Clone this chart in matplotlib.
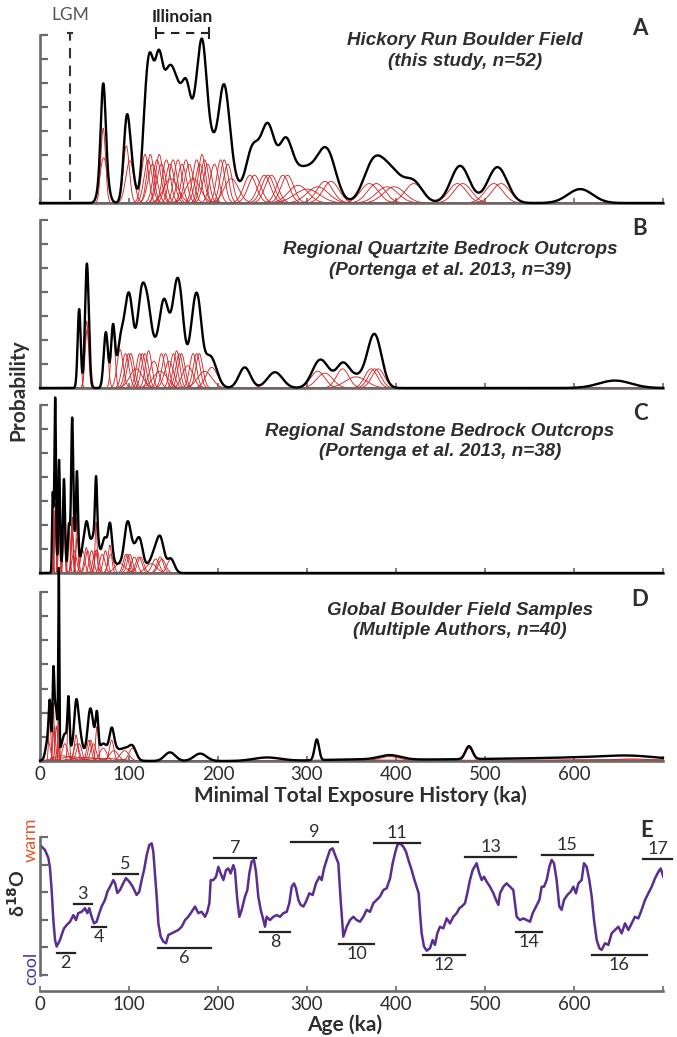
import numpy as np
import matplotlib.pyplot as plt

plt.rcParams['font.family'] = ['Lato', 'DejaVu Sans']

# A: Hickory Run Boulder Field (age ka, 1 sigma ka)
hr_age = [71, 71.5, 97, 101,
          118, 121.5, 124, 126.5, 131.5, 134, 136.5, 142, 146, 147, 149.5,
          155, 159.5, 164, 167.5, 172, 176, 179.5, 182, 185, 188.5, 196, 203, 207, 211, 215,
          236, 241, 252, 256, 260, 273, 278, 290, 300, 312, 320, 327,
          370, 378, 390, 398, 420, 469, 475, 510, 518, 607]
hr_err = [2.6, 4.3, 3.4, 4.6,
          4, 4.5, 4, 5, 4.5, 4, 5, 4.5, 5, 8, 4.5,
          4.5, 5, 4.5, 5, 8, 4.5, 5, 4, 4.5, 5, 5, 4.5, 4.5, 5, 8,
          7, 7, 7, 7, 7, 7, 7, 11, 14, 12, 9, 9,
          10, 10, 12, 12, 10, 10, 10, 10, 10, 14]

# B: regional quartzite bedrock (Portenga et al. 2013)
qz_age = [44, 52.5, 53, 74, 82, 90, 96, 99.5, 102, 108, 112, 115, 118, 122, 128,
          135, 136.5, 141, 145, 150, 153.5, 156.5, 159, 166, 172, 176, 179, 185, 193,
          230, 264, 312, 320, 340, 355, 372, 376, 380, 646]
qz_err = [1.7, 2.0, 2.3, 2.4, 2.2, 3.5, 3.9, 3.9, 3.9, 7, 3.9, 3.9, 3.9, 3.6, 5,
          8, 3.9, 3.9, 5, 3.9, 3.6, 3.9, 3.9, 6, 3.9, 3.9, 3.9, 8, 6.5,
          6.5, 8.5, 8, 9, 7, 12, 7, 7, 7, 18]

# C: regional sandstone bedrock (Portenga et al. 2013)
ss_age = [14.3, 16.8, 17, 17.2, 21.3, 21.8, 26.8, 27.3, 32.5, 35.8, 36.2, 36.5, 38.5,
          41.5, 41.8, 48, 52, 53.5, 58, 62, 63, 64, 70, 73.5, 78.5, 79.5, 90, 96.5,
          98.5, 101, 106, 111, 113, 125, 130, 135, 137, 147]
ss_err = [0.75, 1.2, 0.9, 0.8, 0.8, 1.2, 1.0, 1.4, 1.2, 1.15, 1.0, 1.4, 2.5,
          1.0, 1.6, 2.5, 2.2, 2.5, 2.5, 2.5, 1.1, 2.4, 3.0, 2.5, 2.0, 3.0, 6, 3,
          3, 3, 3.5, 3.5, 3.5, 6, 4, 3.5, 4, 4]

# D: global boulder field samples (multiple authors)
gb_age = [9, 11, 15, 16, 18.5, 21, 21.2, 25, 28, 32, 35, 40.5, 41, 44, 50, 55, 57, 60, 64, 70,
          71, 80.5, 83, 95, 104, 146, 180, 255, 311, 350, 393, 430, 482, 520, 560, 620, 650,
          663, 700, 600]
gb_err = [2.5, 1.2, 0.9, 1.5, 1.5, 0.6, 0.55, 10, 3, 1.1, 12, 2, 3, 3, 15, 2.5, 2.5, 3, 1.5, 20,
          4, 2.5, 5, 5, 4, 6, 7, 15, 2.5, 40, 12, 50, 4, 50, 60, 40, 45,
          25, 40, 60]

# E: benthic d18O stack, relative units (0 = cool, 5 = warm)
lr_age = [1.9, 5.6, 9.4, 11.2, 13.1, 15, 16.9, 18.7, 20.6, 22.5, 24.3, 27, 30, 33.7, 37.5, 40.4,
          43, 46.8, 50.6, 53.2, 55.4, 58, 60.7, 63.6, 66.6, 69.2, 73, 75.7, 78.7, 82.4, 84.3,
          86.9, 89.9, 93.6, 96.6, 100.4, 104.1, 108.6, 111.6, 114.2, 116.9, 119.9, 122.8,
          125.5, 127.3, 129.2, 131.1, 133, 135.6, 138.6, 141.6, 144.2, 148, 151.7, 155.4,
          159.2, 163, 166.6, 170.4, 174.2, 177.9, 181.6, 185.4, 188, 190.3, 191.8, 194.8,
          197.8, 200.4, 203, 206, 209, 211.6, 214.2, 217.2, 219, 221.7, 224, 226.6, 230.3,
          233, 235.2, 237.8, 240.4, 242.7, 245.3, 248, 251, 252.8, 254.7, 258.4, 262.2,
          265.9, 269.7, 273.4, 277.2, 280.1, 282.8, 285.4, 287.6, 290.3, 292.9, 295.9,
          298.9, 302.6, 306.4, 310.1, 313.9, 316.5, 319.1, 322.1, 325.8, 328.8, 331.5,
          335.2, 337.8, 340.8, 344.6, 348.3, 352, 355.8, 359.6, 363.3, 367, 370.8, 374.5,
          378.3, 382, 385.8, 389.5, 393.3, 396.3, 398.9, 401.5, 404.5, 408.2, 411.2, 413.9,
          417.6, 420.2, 423.2, 425.5, 427, 428.8, 431.5, 434.5, 438.2, 441.2, 443.8, 446.4,
          449.4, 453.2, 456.9, 460.7, 464.4, 468.2, 471.2, 473.8, 477.5, 480.1, 483.1,
          486.1, 490.6, 493.6, 496.3, 498.9, 501.9, 505.6, 509.4, 512.4, 515, 516.9, 520.6,
          524.3, 528.1, 531.8, 533.7, 535.6, 539.3, 543.1, 546.8, 550.6, 553.6, 557.3,
          561.1, 563.7, 566.3, 569.3, 572.3, 574.9, 577.5, 580.5, 583.5, 586.1, 588.8,
          592.5, 596.3, 599.3, 602.2, 604.9, 608.6, 611.2, 614.2, 617.2, 619.9, 622.5,
          625.5, 628.5, 631.1, 634.8, 638.6, 642.3, 646.1, 649.8, 653.6, 657.3, 661.1,
          664.8, 668.5, 672.3, 676, 679.8, 683.5, 687.3, 691, 694.8, 697.4, 700.4]
lr_val = [4.65, 4.53, 4.24, 3.88, 3.08, 1.99, 1.27, 1.03, 1.15, 1.27, 1.45, 1.69, 1.81, 1.93,
          2.17, 1.99, 2.24, 2.29, 2.42, 2.24, 2.42, 2.11, 1.87, 1.93, 2.24, 2.48, 2.72, 3.02,
          3.2, 3.44, 3.33, 2.97, 3.08, 3.33, 3.51, 3.38, 3.2, 2.9, 3.02, 3.44, 3.8, 4.35, 4.71,
          4.77, 4.47, 3.68, 2.84, 1.87, 1.39, 1.21, 1.15, 1.45, 1.51, 1.57, 1.63, 1.75, 1.99,
          2.11, 2.29, 2.48, 2.24, 2.29, 2.11, 2.29, 2.6, 3.44, 3.44, 3.56, 3.92, 3.68, 3.44,
          3.8, 3.86, 3.68, 3.98, 3.8, 2.72, 2.11, 2.36, 2.84, 3.08, 3.68, 4.11, 4.17, 3.74,
          2.84, 2.36, 1.99, 1.75, 2.11, 1.99, 2.11, 2.17, 2.11, 2.24, 2.29, 2.6, 3.2, 3.32,
          3.14, 2.72, 2.54, 2.48, 2.66, 2.96, 2.9, 3.32, 3.56, 3.44, 3.86, 4.17, 4.53, 4.59,
          4.35, 4.05, 2.72, 1.39, 1.75, 1.99, 2.11, 1.99, 1.93, 2.11, 2.36, 2.29, 2.6, 2.72,
          2.84, 3.08, 3.14, 3.5, 4.05, 4.41, 4.71, 4.77, 4.65, 4.47, 4.17, 3.8, 3.5, 3.2,
          2.96, 2.24, 1.51, 1.03, 0.88, 0.97, 1.27, 1.09, 1.51, 1.75, 1.69, 2.05, 1.87, 2.11,
          2.24, 2.42, 2.48, 2.6, 2.96, 3.44, 3.8, 4.05, 3.68, 3.44, 3.56, 3.38, 3.2, 2.96,
          2.72, 2.54, 2.96, 3.2, 3.32, 3.2, 3.08, 2.6, 2.11, 1.99, 2.05, 1.99, 1.93, 2.24,
          2.48, 2.72, 3.2, 3.2, 3.44, 3.92, 4.17, 4.05, 3.44, 2.48, 2.36, 2.72, 2.9, 3.02,
          3.2, 2.96, 3.32, 3.44, 4.05, 3.92, 3.44, 2.84, 1.99, 1.27, 0.97, 0.91, 1.15, 1.09,
          1.51, 1.63, 1.75, 1.51, 1.87, 1.63, 1.87, 2.11, 2.05, 2.36, 2.72, 2.96, 3.2, 3.5,
          3.74, 3.86, 3.56]

# marine isotope stages: number, start, end, bar level
mis_num = [2, 3, 4, 5, 6, 7, 8, 9, 10, 11, 12, 13, 14, 15, 16, 17]
mis_start = [19, 38, 58, 82, 133, 196, 247, 282, 336, 375, 430, 478, 535, 564, 620, 678]
mis_end = [39, 58, 74, 110, 192, 243, 281, 335, 375, 427, 478, 535, 564, 621, 682, 710]
mis_level = [0.81, 2.57, 1.75, 3.66, 0.99, 4.25, 1.55, 4.83, 1.11, 4.79, 0.72, 4.26, 1.55,
             4.35, 0.72, 4.19]

W, H = 677, 1037
fig = plt.figure(figsize=(W / 100, H / 100), dpi=100)
GREY = '#6b6b6b'
TXT = '#2e2e2e'
x = np.linspace(0, 700, 4000)


def box(top, bottom):
    return [40 / W, 1 - bottom / H, 623 / W, (bottom - top) / H]


def style(ax, ymax, nt=8):
    for s in ['top', 'right']:
        ax.spines[s].set_visible(False)
    for s in ['left', 'bottom']:
        ax.spines[s].set_color(GREY)
        ax.spines[s].set_linewidth(1.9)
    ax.tick_params(axis='y', direction='in', color=GREY, width=1.6, length=5.5)
    ax.tick_params(axis='x', direction='in', color=GREY, width=1.2, length=3.5,
                   labelsize=13.5, labelcolor=TXT, pad=3.5)
    ax.set_xlim(0, 700)
    ax.set_ylim(0, ymax)
    ax.set_yticks(np.linspace(0, ymax, nt))
    ax.set_yticklabels([])
    ax.set_xticks(range(0, 701, 100))


def camel(ax, ages, errs, ymax):
    tot = np.zeros_like(x)
    for a, s in zip(ages, errs):
        p = np.exp(-0.5 * ((x - a) / s) ** 2) / (s * np.sqrt(2 * np.pi))
        ax.plot(x, p, color='#d3282a', lw=0.65, zorder=2)
        tot += p
    ax.plot(x, tot, color='black', lw=1.7, zorder=3, clip_on=False)
    style(ax, ymax)


panels = [
    (35, 203, hr_age, hr_err, 0.345, 'A', 1.04, 'Hickory Run Boulder Field\n(this study, n=52)', 0.682, 0.905),
    (220, 388, qz_age, qz_err, 0.5, 'B', 0.952, 'Regional Quartzite Bedrock Outcrops\n(Portenga et al. 2013, n=39)', 0.658, 0.762),
    (405, 573, ss_age, ss_err, 1.2, 'C', 0.952, 'Regional Sandstone Bedrock Outcrops\n(Portenga et al. 2013, n=38)', 0.642, 0.783),
    (592, 761, gb_age, gb_err, 1.3, 'D', 0.953, 'Global Boulder Field Samples\n(Multiple Authors, n=40)', 0.674, 0.831),
]
axes = []
for top, bot, ages, errs, ymax, lab, ly, title, tx, ty in panels:
    ax = fig.add_axes(box(top, bot))
    camel(ax, ages, errs, ymax)
    ax.text(tx, ty, title, transform=ax.transAxes, ha='center', va='center',
            family=['Liberation Sans', 'DejaVu Sans'], style='italic', weight='bold',
            fontsize=13.5, color=TXT, linespacing=1.25)
    ax.text(0.963, ly, lab, transform=ax.transAxes, ha='center', va='center',
            fontsize=16, weight='bold', color=TXT)
    ax.set_xticklabels([])
    axes.append(ax)

axA, axB, axC, axD = axes
axD.set_xticklabels(['0', '100', '200', '300', '400', '500', '600', ''])

# LGM and Illinoian markers
tr = axA.get_xaxis_transform()
axA.plot([34, 34], [0.02, 1.012], transform=tr, color='#333333', lw=1.5,
         ls=(0, (5, 3.5)), clip_on=False)
axA.plot([31.5, 36.5], [1.012, 1.012], transform=tr, color='#333333', lw=1.5, clip_on=False)
axA.text(34, 1.12, 'LGM', transform=tr, ha='center', va='center', fontsize=12.5, color='#555555')
axA.plot([130, 190], [1.012, 1.012], transform=tr, color='#222222', lw=1.5,
         ls=(0, (4, 3.2)), clip_on=False)
for xe in [130, 190]:
    axA.plot([xe, xe], [0.985, 1.04], transform=tr, color='#222222', lw=1.5, clip_on=False)
axA.text(160, 1.108, 'Illinoian', transform=tr, ha='center', va='center', fontsize=12.5,
         weight='bold', color='#222222')

# E: d18O panel
axE = fig.add_axes(box(837, 975))
axE.plot(lr_age, lr_val, color='#5a2d91', lw=1.8)
style(axE, 5, nt=6)
axE.spines['bottom'].set_position(('outward', 11.5))
axE.set_xticklabels(['0', '100', '200', '300', '400', '500', '600', ''])
for n, s, e, lv in zip(mis_num, mis_start, mis_end, mis_level):
    axE.plot([s, e], [lv, lv], color='#222222', lw=1.6, clip_on=False)
    up = n % 2 == 1
    axE.annotate(str(n), ((s + e) / 2, lv), xytext=(0, 1.5 if up else -1.5),
                 textcoords='offset points', ha='center', va='bottom' if up else 'top',
                 fontsize=13, color=TXT, annotation_clip=False)
axE.text(0.974, 1.05, 'E', transform=axE.transAxes, ha='center', va='center',
         fontsize=16, weight='bold', color=TXT)

# shared labels
fig.text(18 / W, 1 - 390 / H, 'Probability', rotation=90, ha='center', va='center',
         fontsize=15, weight='bold', color=TXT)
fig.text(360 / W, 1 - 796 / H, 'Minimal Total Exposure History (ka)', ha='center', va='center',
         fontsize=15, weight='bold', color=TXT)
fig.text(345 / W, 1 - 1025 / H, 'Age (ka)', ha='center', va='center',
         fontsize=15, weight='bold', color=TXT)
fig.text(17 / W, 1 - 893 / H, r'δ$^{\mathbf{18}}$O', rotation=90, ha='center', va='center',
         fontsize=14, weight='bold', color=TXT)
fig.text(31 / W, 1 - 840 / H, 'warm', rotation=90, ha='center', va='center',
         fontsize=13, color='#e2572a')
fig.text(31 / W, 1 - 968 / H, 'cool', rotation=90, ha='center', va='center',
         fontsize=13, color='#3f3aa6')

fig.savefig('out.png', dpi=100)
